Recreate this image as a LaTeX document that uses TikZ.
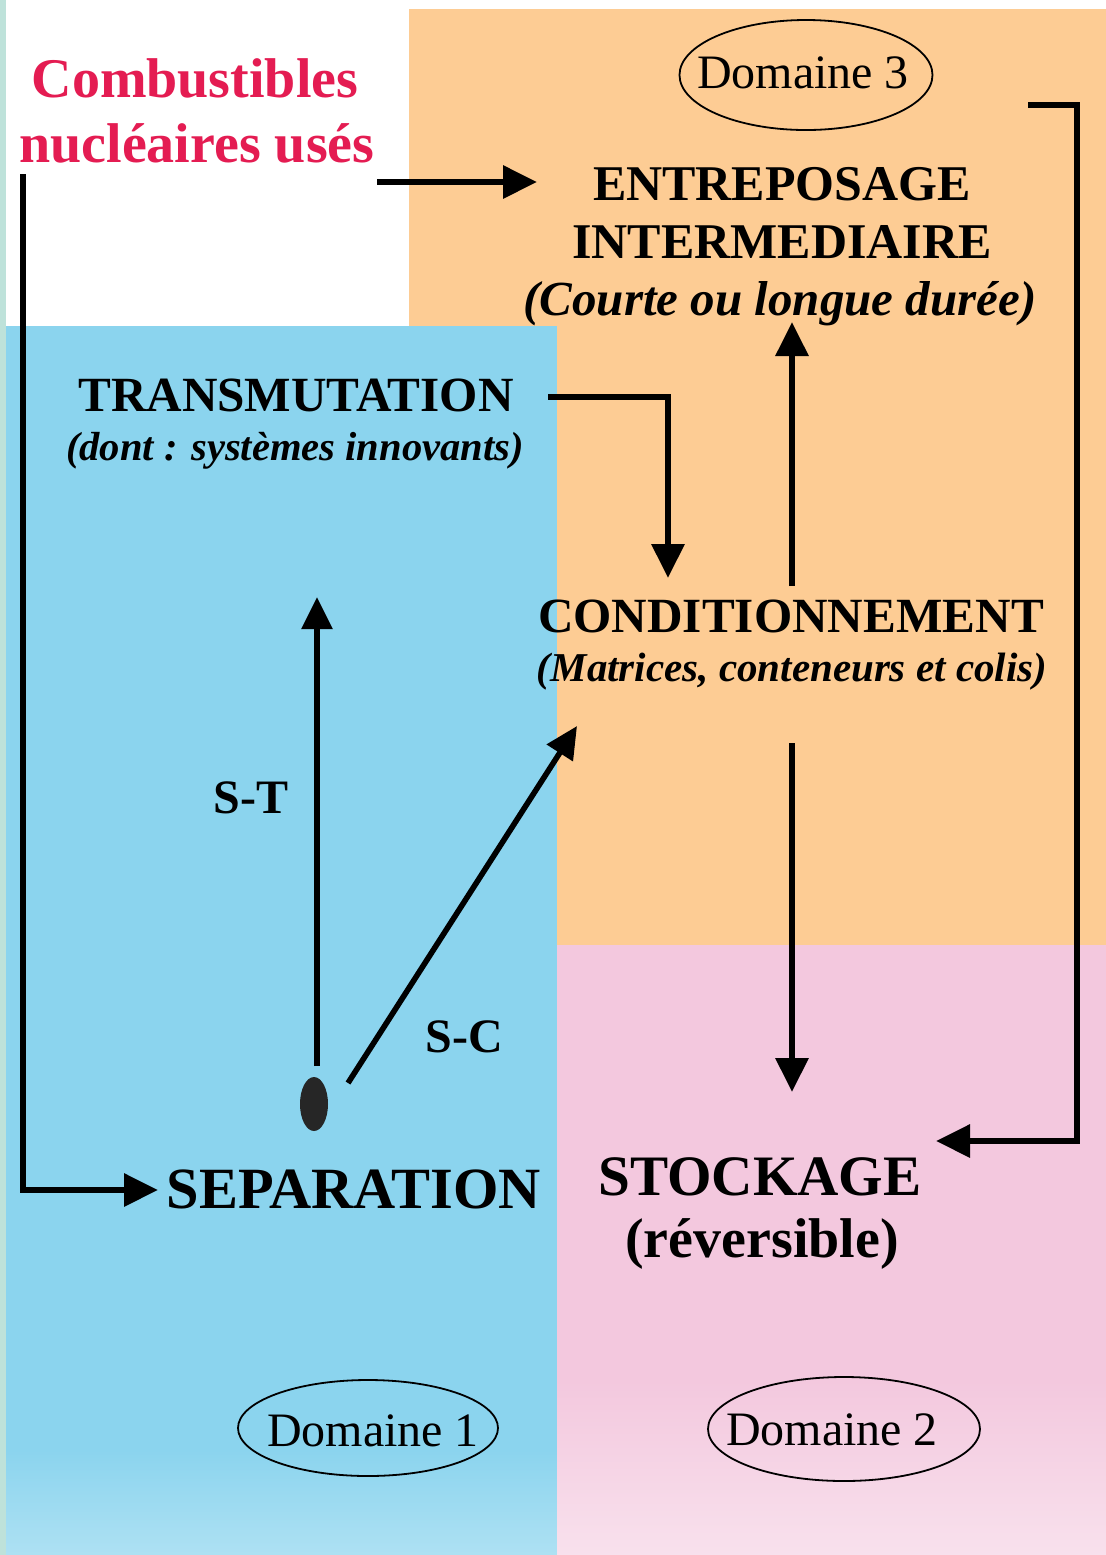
\documentclass[tikz,border=0pt]{standalone}
\usepackage{fontspec}
\setmainfont{Liberation Serif}
\usetikzlibrary{arrows.meta,shapes.geometric}
\definecolor{bgblue}{RGB}{139,212,238}
\definecolor{bgorange}{RGB}{253,204,148}
\definecolor{bgpink}{RGB}{243,200,222}
\definecolor{bgteal}{RGB}{190,226,218}
\definecolor{redtxt}{RGB}{228,28,82}
\tikzset{
  arr/.style={line width=3.1pt, -{Triangle[length=17pt,width=16pt]}},
  thinarr/.style={line width=2.8pt, -{Triangle[length=16pt,width=15pt]}},
  title/.style={font=\bfseries\fontsize{24.6}{29}\selectfont, inner sep=0pt, anchor=base},
  bigtitle/.style={font=\bfseries\fontsize{28.6}{34}\selectfont, inner sep=0pt, anchor=base},
  subtitle/.style={font=\bfseries\itshape\fontsize{20.5}{25}\selectfont, inner sep=0pt, anchor=base},
  dom/.style={ellipse, draw, line width=0.9pt, inner sep=0pt},
  domtxt/.style={font=\fontsize{24}{29}\selectfont, inner sep=0pt, anchor=base},
}
\begin{document}
\begin{tikzpicture}[x=0.5pt,y=-0.5pt]
\useasboundingbox (0,0) rectangle (1106,1555);
% backgrounds
\fill[white] (0,0) rectangle (1106,1555);
\fill[bgorange] (409,9) rectangle (1106,945);
\fill[bgblue] (6,326) rectangle (557,1555);
\shade[top color=bgblue, bottom color=bgblue!70!white] (6,1450) rectangle (557,1555);
\fill[bgpink] (557,945) rectangle (1106,1555);
\shade[top color=bgpink, bottom color=bgpink!55!white] (557,1380) rectangle (1106,1555);
\fill[bgteal] (0,0) rectangle (6,1555);

% domain ellipses
\node[dom, minimum width=126.5pt, minimum height=55pt] (d3) at (806,75) {};
\node[domtxt] (d3t) at (803,88) {Domaine 3};
\node[dom, minimum width=130pt, minimum height=48pt] (d1) at (368,1428) {};
\node[domtxt] (d1t) at (373,1446) {Domaine 1};
\node[dom, minimum width=136pt, minimum height=52pt] (d2) at (844,1429) {};
\node[domtxt] (d2t) at (832,1445) {Domaine 2};

% texts
\node[bigtitle, font=\bfseries\fontsize{28}{34}\selectfont, text=redtxt] (comb1) at (195,97) {Combustibles};
\node[bigtitle, font=\bfseries\fontsize{28}{34}\selectfont, text=redtxt] (comb2) at (197,162) {nucléaires usés};
\node[title, font=\bfseries\fontsize{25}{30}\selectfont] (ent1) at (782,200) {ENTREPOSAGE};
\node[title, font=\bfseries\fontsize{25}{30}\selectfont] (ent2) at (782,258) {INTERMEDIAIRE};
\node[subtitle, font=\bfseries\itshape\fontsize{24.5}{29}\selectfont] (ent3) at (780,315) {(Courte ou longue durée)};
\node[title] (tr1) at (296,411) {TRANSMUTATION};
\node[subtitle, font=\bfseries\itshape\fontsize{20.3}{24}\selectfont] (tr2) at (295,460) {(dont : systèmes innovants)};
\node[title] (co1) at (791,632) {CONDITIONNEMENT};
\node[subtitle] (co2) at (792,681) {(Matrices, conteneurs et colis)};
\node[title, font=\bfseries\fontsize{24}{29}\selectfont] (st) at (251,813) {S-T};
\node[title, font=\bfseries\fontsize{24}{29}\selectfont] (sc) at (464,1052) {S-C};
\node[bigtitle, font=\bfseries\fontsize{29.2}{34}\selectfont] (sep) at (354,1208) {SEPARATION};
\node[bigtitle] (sto1) at (760,1195) {STOCKAGE};
\node[bigtitle, font=\bfseries\fontsize{28}{34}\selectfont] (sto2) at (762,1257) {(réversible)};

% separation dot
\node[ellipse, fill=black!85, minimum width=14pt, minimum height=27pt, inner sep=0pt] (dot) at (314,1104) {};

% connector endpoints
\coordinate (a1s) at (377,182);
\coordinate (a1e) at (537,182);
\coordinate (a2s) at (23,174);
\coordinate (a2c) at (23,1190);
\coordinate (a2e) at (158,1190);
\coordinate (a3s) at (548,397);
\coordinate (a3c) at (668,397);
\coordinate (a3e) at (668,578);
\coordinate (a4s) at (792,586);
\coordinate (a4e) at (792,322);
\coordinate (a5s) at (792,743);
\coordinate (a5e) at (792,1092);
\coordinate (a6s) at (1028,105);
\coordinate (a6c1) at (1077,105);
\coordinate (a6c2) at (1077,1141);
\coordinate (a6e) at (936,1141);
\coordinate (a7s) at (317,1066);
\coordinate (a7e) at (317,597);
\coordinate (a8s) at (348,1083);
\coordinate (a8e) at (577,726);

% connectors
\draw[arr] (a1s) -- (a1e);
\draw[arr] (a2s) -- (a2c) -- (a2e);
\draw[arr] (a3s) -- (a3c) -- (a3e);
\draw[arr] (a4s) -- (a4e);
\draw[arr] (a5s) -- (a5e);
\draw[arr] (a6s) -- (a6c1) -- (a6c2) -- (a6e);
\draw[thinarr] (a7s) -- (a7e);
\draw[thinarr] (a8s) -- (a8e);
\end{tikzpicture}
\end{document}
